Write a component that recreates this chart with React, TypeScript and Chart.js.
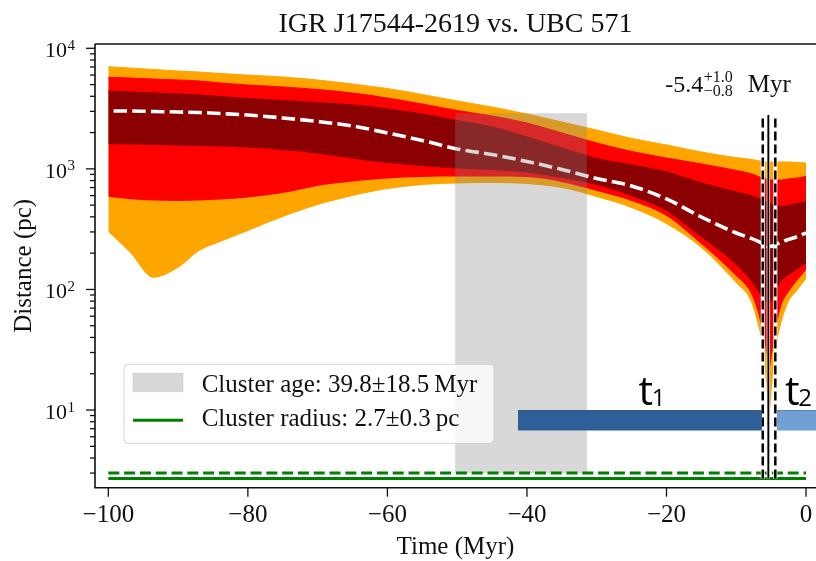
import React, { useEffect, useRef } from "react";
import { Chart, registerables } from "chart.js";
Chart.register(...registerables);

// ---------- data ----------
const TIME = [-100, -97, -93.5, -90, -87, -84, -80, -75, -70, -65, -60, -55, -50, -45, -40, -35, -30, -25, -20, -15, -10, -8, -7, -6.3, -5.7, -5.3, -4.8, -4.2, -3.5, -2.5, -1.2, 0];
const ORANGE_HI = [7040, 6870, 6670, 6480, 6360, 6180, 6000, 5780, 5460, 5060, 4640, 4140, 3660, 3260, 2850, 2450, 2100, 1790, 1580, 1380, 1240, 1200, 1175, 1150, 1140, 1140, 1140, 1140, 1140, 1140, 1130, 1120];
const RED_HI = [5750, 5670, 5560, 5460, 5360, 5160, 4960, 4780, 4550, 4260, 3870, 3450, 3050, 2745, 2400, 1985, 1640, 1395, 1230, 1100, 970, 916, 873, 840, 825, 817, 809, 809, 809, 825, 840, 865];
const DARKRED_HI = [4425, 4340, 4260, 4180, 4100, 3985, 3835, 3690, 3550, 3390, 3140, 2850, 2520, 2225, 1840, 1490, 1220, 1077, 943, 764, 644, 602, 574, 552, 532, 521, 507, 493, 488, 497, 517, 537];
const MEDIAN = [3021, 3021, 2992, 2964, 2936, 2880, 2799, 2643, 2472, 2269, 1985, 1720, 1462, 1316, 1152, 989, 833, 722, 563, 399, 294, 267, 253, 241, 232, 227, 229, 238, 248, 260, 275, 294];
const DARKRED_LO = [1600, 1594, 1578, 1563, 1548, 1533, 1504, 1435, 1342, 1220, 1119, 1057, 1008, 979, 933, 840, 735, 596, 448, 272, 160, 120, 99, 86.6, 78.8, 75.8, 85, 103, 118, 132, 148, 166];
const RED_LO = [588, 563, 547, 542, 547, 557, 579, 631, 722, 786, 833, 857, 865, 865, 857, 779, 656, 542, 407, 238, 129, 95.3, 67.6, 46.2, 30.3, 21.5, 31.5, 50.8, 74.4, 95.3, 120, 145];
const ORANGE_LO = [301, 205, 125, 151, 208, 248, 306, 399, 502, 596, 681, 735, 757, 764, 749, 694, 585, 474, 349, 221, 113, 81.8, 53.8, 34.7, 16.2, 8.9, 17.8, 34.7, 53.8, 78.8, 99, 122];

const AGE_SPAN = [-50.3, -31.4];
const AGE_RANGE = [3.0, 2890];
const RADIUS = 2.7;
const RADIUS_UP = 3.0;
const RADIUS_SPAN = [-100, 0];
const T_MIN = -5.4;
const T_MIN_LO = -6.2;
const T_MIN_HI = -4.4;
const VLINE_RANGE = [2.7, 2800];
const T1_SPAN = [-41.3, -6.3];
const T2_SPAN = [-4.2, 3];
const TBAR_RANGE = [6.75, 9.89];

const X_TICKS = [-100, -80, -60, -40, -20, 0];
const Y_MAJOR = [10, 100, 1000, 10000];
const Y_MAJOR_EXP = ["1", "2", "3", "4"];
const Y_MINOR_MULT = [2, 3, 4, 5, 6, 7, 8, 9];
const X_MIN = -101.91;
const X_MAX = 1.43;
const Y_MIN = 2.269;
const Y_MAX = 10856;

const TITLE = "IGR J17544-2619 vs. UBC 571";
const X_LABEL = "Time (Myr)";
const Y_LABEL = "Distance (pc)";
const LEGEND_AGE = "Cluster age: 39.8\u00B118.5\u2009Myr";
const LEGEND_RADIUS = "Cluster radius: 2.7\u00B10.3\u2009pc";

const SERIF = '"Liberation Serif", "Times New Roman", serif';
const SANS = '"Open Sans", "Liberation Sans", sans-serif';

const series = (ys: number[]) => TIME.map((t, i) => ({ x: t, y: ys[i] }));
const hline = (y: number, span: number[]) => [{ x: span[0], y }, { x: span[1], y }];
const vline = (x: number, r: number[]) => [{ x, y: r[0] }, { x, y: r[1] }];

const ORANGE = "#FFA500";
const RED = "#FF0000";
const DARKRED = "#8B0000";
const CLEAR = "rgba(0,0,0,0)";

function buildDatasets() {
  const lo = (ys: number[]) => ({ data: series(ys), borderColor: CLEAR, borderWidth: 1, fill: false, cubicInterpolationMode: "monotone" });
  const hi = (ys: number[], c: string) => ({ data: series(ys), borderColor: c, borderWidth: 1, backgroundColor: c, fill: "-1", cubicInterpolationMode: "monotone" });
  const ds: any[] = [
    lo(ORANGE_LO), hi(ORANGE_HI, ORANGE),
    lo(RED_LO), hi(RED_HI, RED),
    lo(DARKRED_LO), hi(DARKRED_HI, DARKRED),
    { data: series(MEDIAN), borderColor: "#ffffff", borderWidth: 3.6, borderDash: [13.5, 5.2], borderDashOffset: 13.5, fill: false, cubicInterpolationMode: "monotone" },
    { data: hline(AGE_RANGE[1], AGE_SPAN), borderColor: CLEAR, borderWidth: 1, backgroundColor: "rgba(128,128,128,0.31)", fill: { value: AGE_RANGE[0] } },
    { data: hline(RADIUS, RADIUS_SPAN), borderColor: "#008000", borderWidth: 3, fill: false },
    { data: hline(RADIUS_UP, RADIUS_SPAN), borderColor: "#008000", borderWidth: 3, borderDash: [11, 4.8], fill: false },
    { data: vline(T_MIN_LO, VLINE_RANGE), borderColor: "#ffffff", borderWidth: 4, fill: false },
    { data: vline(T_MIN, VLINE_RANGE), borderColor: "#ffffff", borderWidth: 3.4, fill: false },
    { data: vline(T_MIN_HI, VLINE_RANGE), borderColor: "#ffffff", borderWidth: 4, fill: false },
    { data: vline(T_MIN_LO, VLINE_RANGE), borderColor: "#000000", borderWidth: 2.5, borderDash: [9, 4], fill: false },
    { data: vline(T_MIN, VLINE_RANGE), borderColor: "#000000", borderWidth: 1.9, fill: false },
    { data: vline(T_MIN_HI, VLINE_RANGE), borderColor: "#000000", borderWidth: 2.5, borderDash: [9, 4], fill: false },
    { data: hline(TBAR_RANGE[1], T1_SPAN), borderColor: "#2A5585", borderWidth: 1, backgroundColor: "#2E5F98", fill: { value: TBAR_RANGE[0] } },
    { data: hline(TBAR_RANGE[1], T2_SPAN), borderColor: "#4F7FBA", borderWidth: 1, backgroundColor: "#72A0D5", fill: { value: TBAR_RANGE[0] } },
  ];
  ds.forEach((d, i) => {
    d.order = -i;
    d.pointRadius = 0;
    d.pointHoverRadius = 0;
  });
  return ds;
}

const mplPlugin = {
  id: "mplAxes",
  afterDraw(chart: any) {
    const { ctx, chartArea: a, scales } = chart;
    const xs = scales.x;
    const ys = scales.y;
    ctx.save();
    ctx.fillStyle = "#111";
    ctx.strokeStyle = "#111";

    // spines
    ctx.lineWidth = 1.6;
    ctx.beginPath();
    ctx.moveTo(a.left, a.top);
    ctx.lineTo(a.right + 2, a.top);
    ctx.moveTo(a.left, a.top);
    ctx.lineTo(a.left, a.bottom);
    ctx.lineTo(a.right + 2, a.bottom);
    ctx.stroke();

    // x ticks
    ctx.lineWidth = 1.3;
    ctx.font = `25px ${SERIF}`;
    ctx.textAlign = "center";
    ctx.textBaseline = "alphabetic";
    X_TICKS.forEach((v) => {
      const px = xs.getPixelForValue(v);
      ctx.beginPath();
      ctx.moveTo(px, a.bottom);
      ctx.lineTo(px, a.bottom + 9);
      ctx.stroke();
      const lbl = v < 0 ? "\u2212" + Math.abs(v) : String(v);
      ctx.fillText(lbl, px, a.bottom + 34.3);
    });

    // y ticks
    Y_MAJOR.forEach((v, i) => {
      const py = ys.getPixelForValue(v);
      if (py < a.top - 0.5 || py > a.bottom + 0.5) return;
      ctx.beginPath();
      ctx.moveTo(a.left, py);
      ctx.lineTo(a.left - 9, py);
      ctx.stroke();
      ctx.font = `22px ${SERIF}`;
      ctx.textAlign = "right";
      ctx.fillText("10", a.left - 28, py + 8.8);
      ctx.font = `15px ${SERIF}`;
      ctx.textAlign = "left";
      ctx.fillText(Y_MAJOR_EXP[i], a.left - 27.5, py + 1.6);
    });
    [1, 10, 100, 1000].forEach((d) => {
      Y_MINOR_MULT.forEach((m) => {
        const v = m * d;
        if (v < Y_MIN || v > Y_MAX) return;
        const py = ys.getPixelForValue(v);
        ctx.beginPath();
        ctx.moveTo(a.left, py);
        ctx.lineTo(a.left - 5, py);
        ctx.stroke();
      });
    });

    // title & axis labels
    const cx = (a.left + a.right) / 2;
    ctx.textAlign = "center";
    ctx.font = `28px ${SERIF}`;
    ctx.fillText(TITLE, cx, 31.5);
    ctx.font = `25px ${SERIF}`;
    ctx.fillText(X_LABEL, cx, 554);
    ctx.save();
    ctx.translate(24, (a.top + a.bottom) / 2);
    ctx.rotate(-Math.PI / 2);
    ctx.textBaseline = "middle";
    ctx.fillText(Y_LABEL, 0, 0);
    ctx.restore();

    // legend
    const lx = a.left + 29, ly = a.top + 320.3, lw = 370, lh = 79;
    ctx.beginPath();
    ctx.roundRect(lx, ly, lw, lh, 4);
    ctx.fillStyle = "rgba(255,255,255,0.8)";
    ctx.fill();
    ctx.strokeStyle = "rgba(204,204,204,0.8)";
    ctx.lineWidth = 1;
    ctx.stroke();
    ctx.fillStyle = "rgba(128,128,128,0.31)";
    ctx.fillRect(lx + 9, ly + 9, 50, 18.4);
    ctx.strokeStyle = "rgba(128,128,128,0.2)";
    ctx.strokeRect(lx + 9, ly + 9, 50, 18.4);
    ctx.strokeStyle = "#008000";
    ctx.lineWidth = 3;
    ctx.beginPath();
    ctx.moveTo(lx + 9, ly + 56);
    ctx.lineTo(lx + 59, ly + 56);
    ctx.stroke();
    ctx.fillStyle = "#111";
    ctx.font = `25px ${SERIF}`;
    ctx.textAlign = "left";
    ctx.textBaseline = "alphabetic";
    ctx.fillText(LEGEND_AGE, lx + 77.7, ly + 27.3);
    ctx.fillText(LEGEND_RADIUS, lx + 77.7, ly + 61.4);

    // annotation of closest approach
    const x0 = xs.getPixelForValue(T_MIN);
    ctx.font = `24px ${SERIF}`;
    ctx.textAlign = "right";
    ctx.fillText("-5.4", x0 - 65, 92);
    ctx.textAlign = "left";
    ctx.font = `16px ${SERIF}`;
    ctx.fillText("+1.0", x0 - 64.5, 81.5);
    ctx.fillText("\u22120.8", x0 - 64.5, 96);
    ctx.font = `25px ${SERIF}`;
    ctx.fillText("Myr", x0 - 20.5, 92);

    // t1 / t2 labels
    const barTop = ys.getPixelForValue(TBAR_RANGE[1]);
    ctx.fillStyle = "#000";
    const tl = (xv: number, sub: string) => {
      const px = xs.getPixelForValue(xv);
      ctx.font = `41px ${SANS}`;
      ctx.fillText("t", px, barTop - 5.7);
      const w = ctx.measureText("t").width;
      ctx.font = `24px ${SANS}`;
      ctx.fillText(sub, px + w - 1.5, barTop - 4.5);
    };
    tl(-24.0, "1");
    tl(-3.0, "2");

    ctx.restore();
  },
};

export default function App() {
  const ref = useRef<HTMLCanvasElement>(null);
  useEffect(() => {
    const canvas = ref.current!;
    const chart = new Chart(canvas, {
      type: "line",
      data: { datasets: buildDatasets() },
      options: {
        responsive: false,
        animation: false,
        devicePixelRatio: 1,
        events: [],
        layout: { padding: { left: 95, top: 44, right: 0, bottom: 73.3 } },
        scales: {
          x: { type: "linear", min: X_MIN, max: X_MAX, display: false },
          y: { type: "logarithmic", min: Y_MIN, max: Y_MAX, display: false },
        },
        plugins: {
          legend: { display: false },
          tooltip: { enabled: false },
          title: { display: false },
        },
      },
      plugins: [mplPlugin],
    } as any);
    return () => chart.destroy();
  }, []);
  return (
    <div style={{ position: "absolute", left: 0, top: 0, width: 816, height: 561, background: "#fff" }}>
      <canvas ref={ref} width={816} height={561} style={{ display: "block" }} />
    </div>
  );
}
